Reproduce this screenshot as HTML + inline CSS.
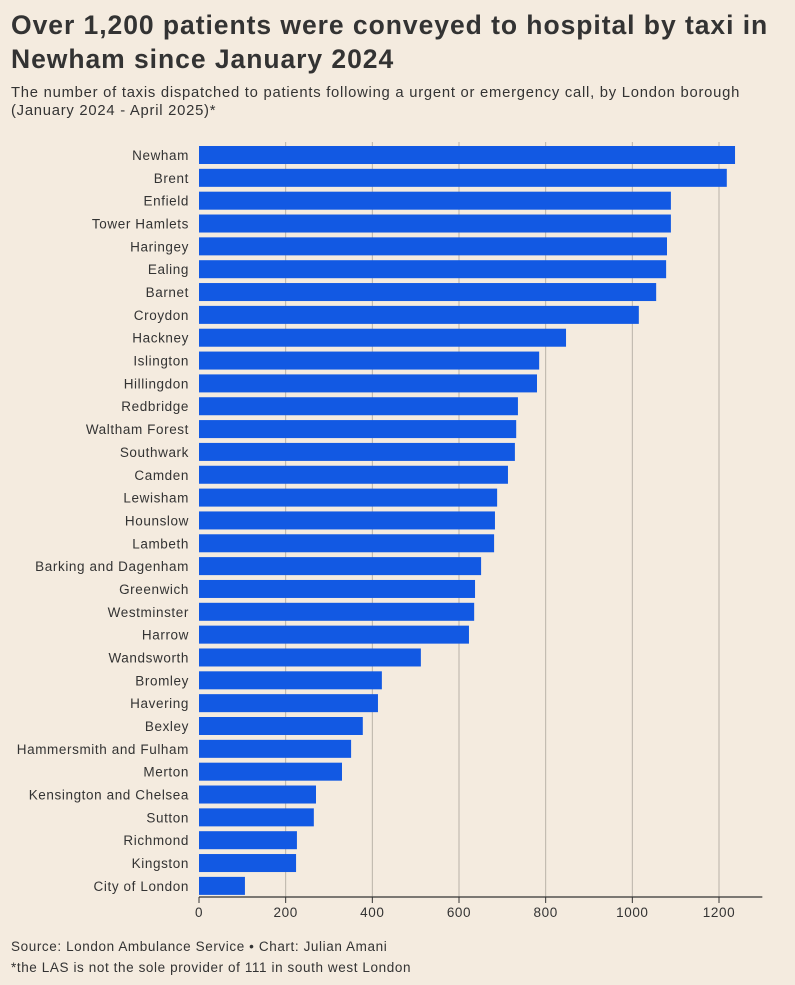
<!DOCTYPE html>
<html><head><meta charset="utf-8"><style>
body{margin:0;background:#f4ebdf;font-family:"Liberation Sans",sans-serif;color:#333;}
#wrap{position:relative;width:795px;height:985px;overflow:hidden;}
h1{position:absolute;left:11px;top:8px;margin:0;font-size:26.5px;line-height:34px;font-weight:bold;color:#333;letter-spacing:0.95px;white-space:nowrap;}
.sub{position:absolute;left:11px;top:84px;margin:0;font-size:14.8px;line-height:18px;color:#333;letter-spacing:0.75px;white-space:nowrap;}
.foot{position:absolute;left:11px;top:936px;font-size:13.5px;line-height:21px;color:#333;letter-spacing:0.6px;white-space:nowrap;}
svg{position:absolute;left:0;top:0;}
svg text{letter-spacing:0.6px;}
</style></head><body>
<div id="wrap">
<h1>Over 1,200 patients were conveyed to hospital by taxi in<br>Newham since January 2024</h1>
<p class="sub">The number of taxis dispatched to patients following a urgent or emergency call, by London borough<br>(January 2024 - April 2025)*</p>
<svg id="chart" width="795" height="985"></svg>
<div class="foot">Source: London Ambulance Service • Chart: Julian Amani<br>*the LAS is not the sole provider of 111 in south west London</div>
</div>
<script>
const categories=["Newham","Brent","Enfield","Tower Hamlets","Haringey","Ealing","Barnet","Croydon","Hackney","Islington","Hillingdon","Redbridge","Waltham Forest","Southwark","Camden","Lewisham","Hounslow","Lambeth","Barking and Dagenham","Greenwich","Westminster","Harrow","Wandsworth","Bromley","Havering","Bexley","Hammersmith and Fulham","Merton","Kensington and Chelsea","Sutton","Richmond","Kingston","City of London"];
const values=[1237,1218,1089,1089,1080,1078,1055,1015,847,785,780,736,732,729,713,688,683,681,651,637,635,623,512,422,413,378,351,330,270,265,226,224,106];
const ticks=[0,200,400,600,800,1000,1200];
const NS="http://www.w3.org/2000/svg";
const svg=document.getElementById('chart');
const x0=199,xmax=1300,px=0.43333;
const x=v=>x0+v*px;
const yTop=144,step=22.84,bh=18;
const y=i=>yTop+i*step;
function mk(t,a){const e=document.createElementNS(NS,t);for(const k in a)e.setAttribute(k,a[k]);svg.appendChild(e);return e;}
ticks.forEach(t=>{
  if(t>0){const g=mk('line',{x1:x(t),x2:x(t),y1:142,y2:897,stroke:'#b9b2a8','stroke-width':1});
  
  }
  const tk=mk('line',{x1:x(t),x2:x(t),y1:897,y2:903,stroke:'#333','stroke-width':1});
  
  
  const l=mk('text',{x:x(t),y:917,'text-anchor':'middle','font-size':13.5,fill:'#333'});
  l.textContent=t;
  
  
});
categories.forEach((c,i)=>{
  const r=mk('rect',{x:x0,y:y(i)+2,width:x(values[i])-x0,height:bh,fill:'#1259e3'});
  
  
  const t=mk('text',{x:189,y:y(i)+16,'text-anchor':'end','font-size':13.5,fill:'#333'});
  t.textContent=c;
  
  
});
const ax=mk('line',{x1:x0,x2:x(xmax),y1:897,y2:897,stroke:'#333','stroke-width':1.3});


</script>
</body></html>
